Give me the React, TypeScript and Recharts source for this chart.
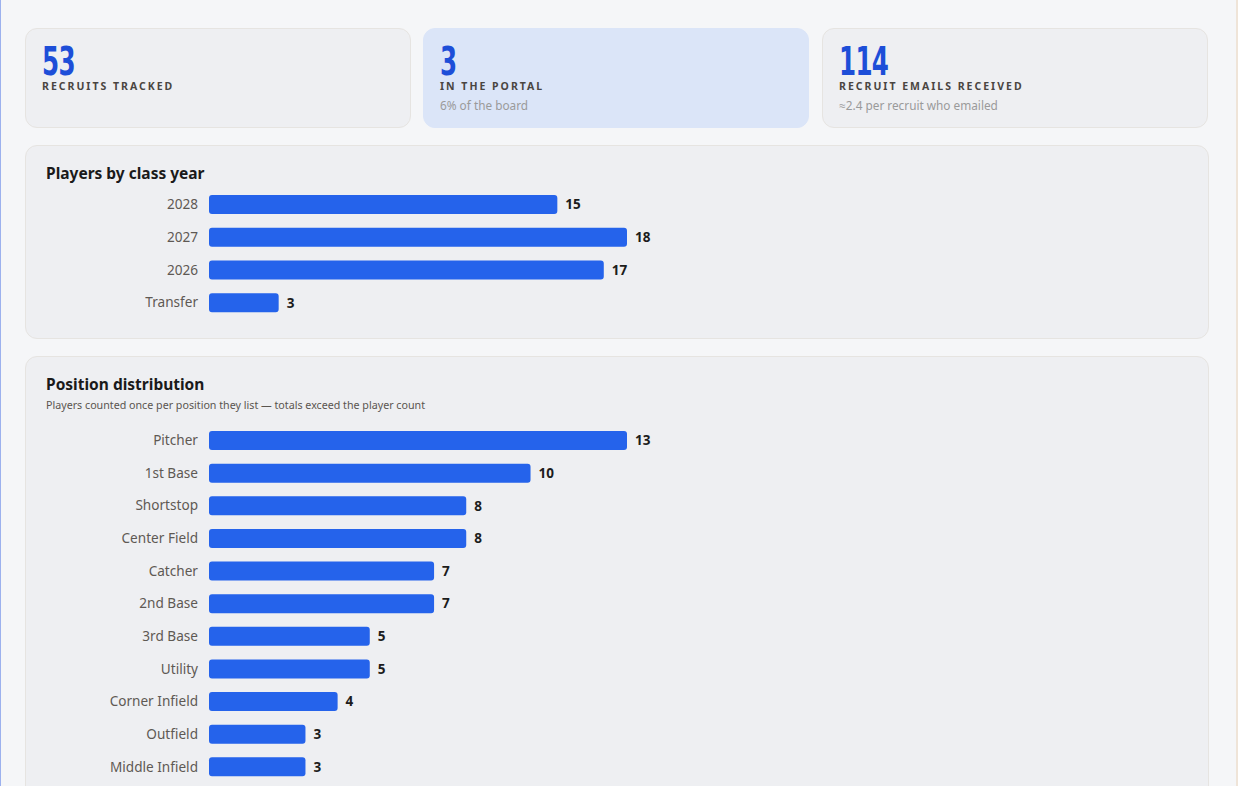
import { BarChart, Bar, XAxis, YAxis, LabelList } from 'recharts';

const classYears = ['2028', '2027', '2026', 'Transfer'];
const classCounts = [15, 18, 17, 3];

const positions = [
    'Pitcher',
    '1st Base',
    'Shortstop',
    'Center Field',
    'Catcher',
    '2nd Base',
    '3rd Base',
    'Utility',
    'Corner Infield',
    'Outfield',
    'Middle Infield',
];
const positionCounts = [13, 10, 8, 8, 7, 7, 5, 5, 4, 3, 3];

const statValues = ['53', '3', '114'];
const statLabels = ['RECRUITS TRACKED', 'IN THE PORTAL', 'RECRUIT EMAILS RECEIVED'];
const statNotes = ['', '6% of the board', '\u22482.4 per recruit who emailed'];

const FONT = '"Noto Sans", "Open Sans", sans-serif';
const BLUE = '#2563eb';

interface Row {
    name: string;
    count: number;
}

const classData: Row[] = classYears.map((name, i) => ({ name, count: classCounts[i] }));
const positionData: Row[] = positions.map((name, i) => ({ name, count: positionCounts[i] }));

function HBar({ data, height }: { data: Row[]; height: number }) {
    return (
        <BarChart
            width={640}
            height={height}
            data={data}
            layout="vertical"
            margin={{ top: 0, right: 59, bottom: 0, left: 0 }}
            barSize={19}
        >
            <XAxis type="number" hide domain={[0, 'dataMax']} />
            <YAxis
                type="category"
                dataKey="name"
                width={163}
                axisLine={false}
                tickLine={false}
                tickSize={0}
                tickMargin={11}
                tick={{ fill: '#5e5954', fontSize: 13.6, fontFamily: FONT }}
            />
            <Bar dataKey="count" fill={BLUE} radius={3} isAnimationActive={false}>
                <LabelList
                    dataKey="count"
                    position="right"
                    offset={8}
                    style={{ fill: '#1c1c1c', fontSize: 13.5, fontWeight: 700, fontFamily: FONT }}
                />
            </Bar>
        </BarChart>
    );
}

export default function App() {
    const cardLeft = [25, 423, 822];
    return (
        <div
            style={{
                position: 'absolute',
                left: 0,
                top: 0,
                width: 1238,
                height: 786,
                overflow: 'hidden',
                background: '#f5f6f8',
                fontFamily: FONT,
            }}
        >
            <div style={{ position: 'absolute', left: 0, top: 0, width: 1, height: 786, background: '#9cb1ee' }} />
            <div style={{ position: 'absolute', left: 1236, top: 0, width: 2, height: 786, background: '#efe4d8' }} />

            {cardLeft.map((left, i) => (
                <div
                    key={i}
                    style={{
                        position: 'absolute',
                        left,
                        top: 28,
                        width: 386,
                        height: 100,
                        boxSizing: 'border-box',
                        borderRadius: 12,
                        background: i === 1 ? '#dbe5f8' : '#eeeff2',
                        border: i === 1 ? '1px solid #dbe5f8' : '1px solid #e6e4e1',
                    }}
                >
                    <div
                        style={{
                            position: 'absolute',
                            left: 16,
                            top: 18,
                            fontFamily: '"Liberation Sans Narrow", "DejaVu Sans Condensed", sans-serif',
                            fontWeight: 700,
                            fontSize: 39,
                            lineHeight: '30px',
                            color: '#1d4ed8',
                            transform: 'scaleX(0.7)',
                            transformOrigin: 'left',
                            letterSpacing: -1,
                        }}
                    >
                        {statValues[i]}
                    </div>
                    <div
                        style={{
                            position: 'absolute',
                            left: 16,
                            top: 51,
                            fontSize: 10.5,
                            lineHeight: '13px',
                            fontWeight: 700,
                            letterSpacing: 2,
                            color: '#4a4541',
                        }}
                    >
                        {statLabels[i]}
                    </div>
                    <div style={{ position: 'absolute', left: 16, top: 68, fontSize: 11.8, color: '#9a9a9a' }}>
                        {statNotes[i]}
                    </div>
                </div>
            ))}

            <div
                style={{
                    position: 'absolute',
                    left: 25,
                    top: 145,
                    width: 1184,
                    height: 194,
                    boxSizing: 'border-box',
                    borderRadius: 12,
                    background: '#eeeff2',
                    border: '1px solid #e6e4e1',
                }}
            >
                <div style={{ position: 'absolute', left: 20, top: 16, fontSize: 15.5, fontWeight: 700, color: '#1a1a1a' }}>
                    Players by class year
                </div>
                <div style={{ position: 'absolute', left: 20, top: 41.5 }}>
                    <HBar data={classData} height={131} />
                </div>
            </div>

            <div
                style={{
                    position: 'absolute',
                    left: 25,
                    top: 356,
                    width: 1184,
                    height: 470,
                    boxSizing: 'border-box',
                    borderRadius: 12,
                    background: '#eeeff2',
                    border: '1px solid #e6e4e1',
                }}
            >
                <div style={{ position: 'absolute', left: 20, top: 16, fontSize: 15.5, fontWeight: 700, color: '#1a1a1a' }}>
                    Position distribution
                </div>
                <div style={{ position: 'absolute', left: 20, top: 41, fontSize: 10.7, color: '#5a5550' }}>
                    Players counted once per position they list — totals exceed the player count
                </div>
                <div style={{ position: 'absolute', left: 20, top: 67 }}>
                    <HBar data={positionData} height={359} />
                </div>
            </div>
        </div>
    );
}
